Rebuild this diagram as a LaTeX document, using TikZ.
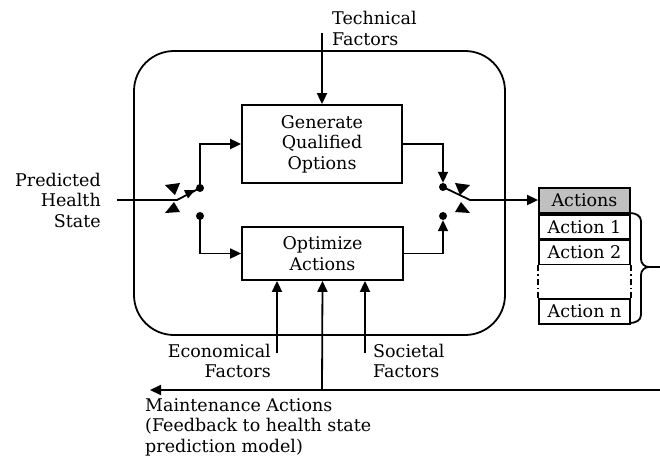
\documentclass[tikz,border=0pt]{standalone}
\usepackage{fontspec}
\setmainfont{DejaVu Serif}
\usetikzlibrary{arrows.meta}
\definecolor{hdrgray}{RGB}{192,192,192}
\begin{document}
\begin{tikzpicture}[x=1pt,y=-1pt,
  every node/.style={font=\fontsize{17.5}{20.5}\selectfont},
  line/.style={line width=1.8pt},
  arr/.style={line width=1.8pt,-{Triangle[length=11pt,width=10pt]}},
  blk/.style={draw,line width=1.8pt,inner sep=0pt,align=center},
  row/.style={draw,line width=1.8pt,inner sep=0pt,minimum width=91pt,anchor=north},
  dot/.style={circle,fill,inner sep=0pt,minimum size=8pt},
  lbl/.style={inner sep=0pt}]
\useasboundingbox (0,0) rectangle (660,456);
% container
\node[draw,line width=1.8pt,rounded corners=40pt,minimum width=371pt,minimum height=284pt,inner sep=0pt] (sys) at (319.5,193) {};
% blocks
\node[blk,minimum width=160pt,minimum height=78pt] (gen) at (322,144) {Generate\\Qualified\\Options};
\node[blk,minimum width=161pt,minimum height=53pt] (opt) at (322.5,253.5) {Optimize\\Actions};
% table
\node[row,fill=hdrgray,minimum height=25pt] (hdr) at (584.5,187) {Actions};
\node[row,minimum height=24pt] (a1) at (hdr.south) {Action 1};
\node[row,minimum height=24pt] (a2) at (a1.south) {Action 2};
\node[row,minimum height=25pt] (an) at (584.5,298) {Action n};
\draw[line,dash pattern=on 6pt off 3pt on 1.5pt off 3pt] (a2.south west) -- (an.north west);
\draw[line,dash pattern=on 6pt off 3pt on 1.5pt off 3pt] (a2.south east) -- (an.north east);
% brace
\coordinate (bt) at (630,213);
\coordinate (bb) at (630,323);
\coordinate (bx) at (660,267);
\draw[line] (bt) to[out=0,in=90] (641,221) -- (641,259) to[out=-90,in=180] (649,267) -- (bx);
\draw[line] (649,267) to[out=180,in=90] (641,275) -- (641,315) to[out=-90,in=0] (bb);
% labels
\node[lbl,align=left,anchor=west] (tech) at (332,28.5) {Technical\\Factors};
\node[lbl,align=right,anchor=east] (pred) at (101,200) {Predicted\\Health\\State};
\node[lbl,align=right,anchor=east] (econ) at (271,361) {Economical\\Factors};
\node[lbl,align=left,anchor=west] (soc) at (373,361) {Societal\\Factors};
\node[lbl,align=left,anchor=north west] (maint) at (145,398) {Maintenance Actions\\(Feedback to health state\\prediction model)};
% technical input
\coordinate (techin) at (322,33);
\draw[arr] (techin) -- (gen.north);
% left switch
\coordinate (inL) at (117,200);
\coordinate (pvL) at (177,200);
\node[dot] (cLu) at (200,188) {};
\node[dot] (cLd) at (200,216) {};
\draw[line] (inL) -- (pvL) -- (cLu.center);
\fill (195,190) -- (188,198.4) -- (184,190.2) -- cycle;
\fill (165,185) -- (180,183) -- (175,195) -- cycle;
\fill (165,213) -- (180,212) -- (174,202) -- cycle;
\draw[arr] (cLu.center) |- (gen.west);
\draw[arr] (cLd.center) |- (opt.west);
% right switch
\node[dot] (cRu) at (443,187) {};
\node[dot] (cRd) at (443,216) {};
\coordinate (pvR) at (470,200);
\draw[arr] (gen.east) -| (cRu.north);
\draw[arr] (opt.east) -| (cRd.south);
\draw[line] (cRu.center) -- (pvR);
\fill (470,185) -- (455,183) -- (460,195) -- cycle;
\fill (470,213) -- (455,212) -- (461,202) -- cycle;
\draw[arr] (pvR) -- (pvR -| hdr.west);
% bottom inputs
\coordinate (econin) at (277,353);
\coordinate (socin) at (365,353);
\draw[arr] (econin) -- (econin |- opt.south);
\draw[arr] (socin) -- (socin |- opt.south);
% feedback
\coordinate (fbR) at (660,390);
\coordinate (fbL) at (150,390);
\coordinate (fbM) at (322,390);
\draw[arr] (fbR) -- (fbL);
\draw[arr] (fbM) -- (opt.south);
\end{tikzpicture}
\end{document}
